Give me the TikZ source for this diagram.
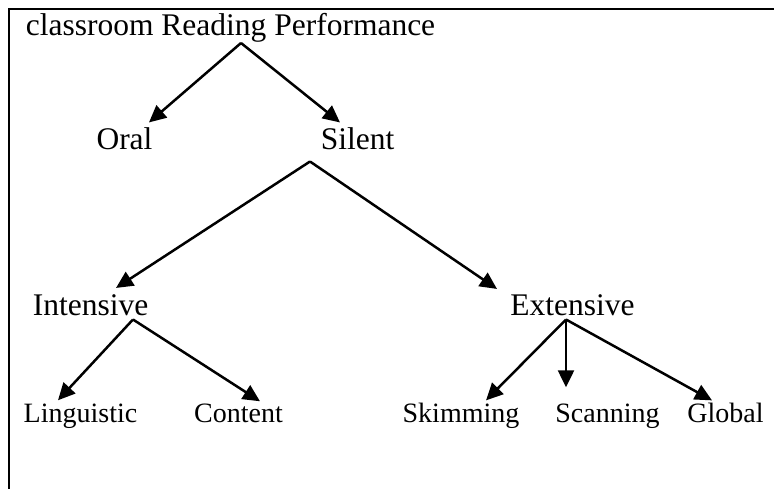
\documentclass[tikz,border=0pt]{standalone}
\usepackage{fontspec}
\setmainfont{Liberation Serif}
\usetikzlibrary{arrows.meta}

\begin{document}
\begin{tikzpicture}[
  x = 1pt, y = -1pt,
  every node/.style = {inner sep=0pt, anchor=base},
  headtext/.style = {font=\fontsize{31.5pt}{36pt}\selectfont},
  leaftext/.style = {font=\fontsize{28pt}{32pt}\selectfont},
  arrow/.style    = {-{Triangle[length=17pt, width=16pt]}, line width=2.5pt},
  framelines/.style = {line width=2.5pt}
]
\useasboundingbox (0,0) rectangle (774,489);

% Frame (open at right and bottom)
\draw[framelines] (9,489) -- (9,9) -- (774,9);

% Nodes
\node[headtext] (title)     at (230.5,36)  {classroom Reading Performance};
\node[headtext] (oral)      at (124.5,150) {Oral};
\node[headtext] (silent)    at (357.5,150) {Silent};
\node[headtext] (intensive) at (90.5,315)  {Intensive};
\node[headtext] (extensive) at (572.5,315) {Extensive};
\node[leaftext] (linguistic) at (80.5,422)  {Linguistic};
\node[leaftext] (content)    at (238.5,422) {Content};
\node[leaftext] (skimming)   at (461,422)   {Skimming};
\node[leaftext] (scanning)   at (607.5,422) {Scanning};
\node[leaftext] (global)     at (725.5,422) {Global};

% Fork points
\coordinate (titlefork)     at ([xshift=10.5pt]title.south);
\coordinate (silentfork)    at ([shift={(-47.5pt,-11pt)}]silent.south);
\coordinate (intensivefork) at ([shift={(42.5pt,-4pt)}]intensive.south);
\coordinate (extensivefork) at ([shift={(-6.5pt,-4pt)}]extensive.south);

% Arrows
\draw[arrow] (titlefork) -- ([shift={(24.5pt,5.5pt)}]oral.north);
\draw[arrow] (titlefork) -- ([shift={(-17.5pt,5.5pt)}]silent.north);

\draw[arrow] (silentfork) -- ([shift={(25.5pt,6pt)}]intensive.north);
\draw[arrow] (silentfork) -- ([shift={(-75.5pt,5pt)}]extensive.north);

\draw[arrow] (intensivefork) -- ([shift={(-22.5pt,3pt)}]linguistic.north);
\draw[arrow] (intensivefork) -- ([shift={(21.5pt,2pt)}]content.north);

\draw[arrow] (extensivefork) -- ([shift={(25pt,2pt)}]skimming.north);
\draw[arrow] (extensivefork) -- ([shift={(-41.5pt,16pt)}]scanning.north);
\draw[arrow] (extensivefork) -- ([shift={(-13.5pt,2pt)}]global.north);

\end{tikzpicture}
\end{document}
